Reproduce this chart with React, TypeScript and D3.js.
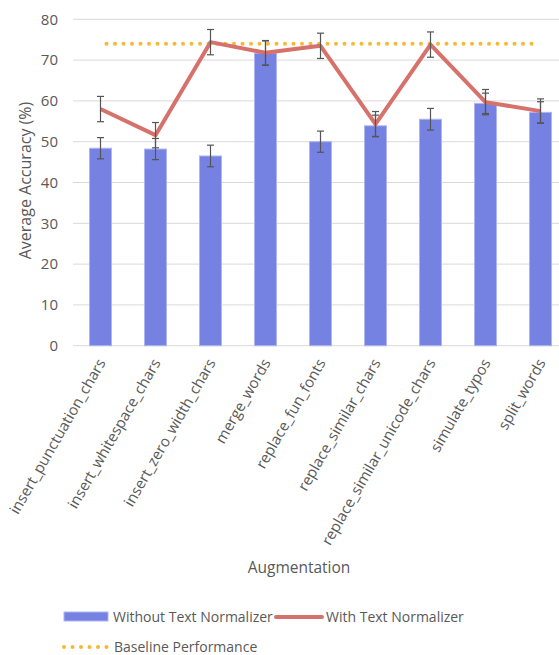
import React from "react";
import * as d3 from "d3";

const categories = [
  "insert_punctuation_chars",
  "insert_whitespace_chars",
  "insert_zero_width_chars",
  "merge_words",
  "replace_fun_fonts",
  "replace_similar_chars",
  "replace_similar_unicode_chars",
  "simulate_typos",
  "split_words",
];
const withoutNorm = [48.4, 48.2, 46.5, 71.7, 50.0, 53.9, 55.5, 59.4, 57.2];
const withoutErr = [2.6, 2.6, 2.65, 3.0, 2.6, 2.6, 2.65, 2.5, 2.6];
const withNorm = [58.0, 51.6, 74.4, 71.8, 73.5, 54.3, 73.8, 59.7, 57.5];
const withErr = [3.1, 3.1, 3.1, 3.0, 3.1, 3.1, 3.1, 3.1, 3.0];
const baseline = 74.0;
const yTicks = [0, 10, 20, 30, 40, 50, 60, 70, 80];

const W = 559;
const H = 655;
const FONT = "'Open Sans', 'Noto Sans', sans-serif";
const TXT = "#595959";

export default function App() {
  const left = 73;
  const x = d3.scaleBand<string>().domain(categories).range([left, left + 55 * 9]).paddingInner(0.6).paddingOuter(0.3);
  const y = d3.scaleLinear().domain([0, 80]).range([345.7, 19.3]);
  const cx = (c: string) => (x(c) as number) + x.bandwidth() / 2;
  const bw = 22;

  const line = d3
    .line<number>()
    .x((_, i) => cx(categories[i]))
    .y((d) => y(d));

  const errBar = (c: string, v: number, e: number, key: string) => {
    const xc = cx(c);
    const y1 = y(v + e);
    const y2 = y(v - e);
    return (
      <g key={key} stroke="#555" strokeWidth={1.2}>
        <line x1={xc} x2={xc} y1={y1} y2={y2} />
        <line x1={xc - 3.5} x2={xc + 3.5} y1={y1} y2={y1} />
        <line x1={xc - 3.5} x2={xc + 3.5} y1={y2} y2={y2} />
      </g>
    );
  };

  const bx0 = cx(categories[0]) + 6;
  const bx1 = cx(categories[categories.length - 1]) - 4;
  const dots = d3.range(bx0, bx1 + 0.1, 8.5);

  return (
    <svg
      width={W}
      height={H}
      style={{ position: "absolute", left: 0, top: 0, background: "#fff" }}
      fontFamily={FONT}
    >
      {/* gridlines */}
      {yTicks.map((t) => (
        <line key={t} x1={left} x2={W} y1={y(t)} y2={y(t)} stroke="#d9d9d9" strokeWidth={1} />
      ))}
      {/* y tick labels */}
      {yTicks.map((t) => (
        <text key={"l" + t} x={58} y={y(t)} dy="0.35em" textAnchor="end" fontSize={15} fill={TXT}>
          {t}
        </text>
      ))}
      <text
        transform={`translate(25,${y(40) - 2}) rotate(-90)`}
        textAnchor="middle"
        dy="0.35em"
        fontSize={16}
        fill={TXT}
      >
        Average Accuracy (%)
      </text>
      {/* bars */}
      {categories.map((c, i) => (
        <rect
          key={c}
          x={cx(c) - bw / 2}
          width={bw}
          y={y(withoutNorm[i])}
          height={y(0) - y(withoutNorm[i])}
          fill="#7682E1"
          stroke="#AEB5F2"
          strokeWidth={1}
        />
      ))}
      {categories.map((c, i) => errBar(c, withoutNorm[i], withoutErr[i], "eb" + i))}
      {/* baseline */}
      {dots.map((d, i) => (
        <circle key={"d" + i} cx={d} cy={y(baseline)} r={2} fill="#F8B932" />
      ))}
      {/* line */}
      <path d={line(withNorm) || ""} fill="none" stroke="#D6716B" strokeWidth={4} strokeLinejoin="round" />
      {categories.map((c, i) => errBar(c, withNorm[i], withErr[i], "el" + i))}
      {/* x labels */}
      {categories.map((c) => (
        <text
          key={"x" + c}
          transform={`translate(${cx(c) + 1},${360}) rotate(-60)`}
          textAnchor="end"
          dy="0.35em"
          fontSize={15}
          fill={TXT}
        >
          {c}
        </text>
      ))}
      <text x={299} y={568} textAnchor="middle" dy="0.35em" fontSize={15.5} fill={TXT}>
        Augmentation
      </text>
      {/* legend */}
      <rect x={64} y={612} width={44} height={9} fill="#7682E1" stroke="#AEB5F2" strokeWidth={1} />
      <text x={113} y={617} dy="0.35em" fontSize={14} fill={TXT}>
        Without Text Normalizer
      </text>
      <line x1={276} x2={322} y1={617} y2={617} stroke="#D6716B" strokeWidth={4} strokeLinecap="round" />
      <text x={326} y={617} dy="0.35em" fontSize={14} fill={TXT}>
        With Text Normalizer
      </text>
      {d3.range(0, 6).map((i) => (
        <circle key={"ld" + i} cx={64 + i * 8.5} cy={647} r={2} fill="#F8B932" />
      ))}
      <text x={114} y={647} dy="0.35em" fontSize={14} fill={TXT}>
        Baseline Performance
      </text>
    </svg>
  );
}
